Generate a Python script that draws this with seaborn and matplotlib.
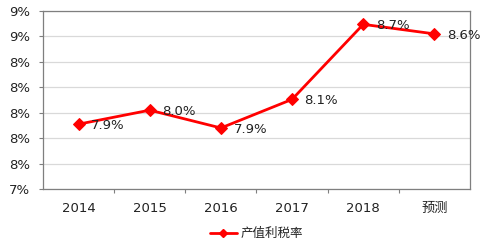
import matplotlib
matplotlib.use("Agg")
import matplotlib.pyplot as plt
import seaborn as sns
import pandas as pd
import numpy as np

categories = ["2014", "2015", "2016", "2017", "2018", "预测"]
values = [7.91, 8.02, 7.88, 8.105, 8.695, 8.62]
series_name = "产值利税率"
y_ticks = [7.4, 7.6, 7.8, 8.0, 8.2, 8.4, 8.6, 8.8]

sns.set_theme(style="white")
plt.rcParams['font.family'] = ['DejaVu Sans', 'Noto Sans CJK SC']

df = pd.DataFrame({"year": categories, "value": values, "series": series_name})

fig = plt.figure(figsize=(4.84, 2.45), dpi=100)
ax = fig.add_axes([43/484, 1-189/245, (470-43)/484, (189-11)/245])

sns.lineplot(data=df, x="year", y="value", hue="series", palette=["#FF0000"],
             marker="D", markersize=6.5, markeredgecolor="#FF0000",
             linewidth=2.0, ax=ax, sort=False, legend=False)

ax.set_xlim(-0.5, len(categories) - 0.5)
ax.set_ylim(y_ticks[0], y_ticks[-1])
ax.set_yticks(y_ticks)
ax.set_yticklabels([f"{t:.0f}%" for t in y_ticks], fontsize=9.5, color="#222222")
ax.set_xticks(range(len(categories)))
ax.set_xticklabels(categories, fontsize=9.5, color="#222222",
                   family=['DejaVu Sans', 'Noto Sans CJK SC'])
ax.set_xticks(np.arange(0.5, len(categories) - 0.5, 1.0), minor=True)
ax.tick_params(axis="x", which="major", length=0, pad=9)
ax.tick_params(axis="x", which="minor", length=3, width=0.8, color="#7f7f7f", direction="out", bottom=True)
ax.tick_params(axis="y", length=3, width=0.8, color="#7f7f7f", direction="out", left=True, pad=6)
ax.set_xlabel("")
ax.set_ylabel("")

ax.grid(axis="y", color="#d9d9d9", linewidth=0.9)
ax.grid(axis="x", visible=False)
for s in ax.spines.values():
    s.set_visible(True)
    s.set_color("#7f7f7f")
    s.set_linewidth(0.9)

for i, v in enumerate(values):
    ax.annotate(f"{v:.1f}%", (i, v), xytext=(9, -1), textcoords="offset points",
                ha="left", va="center", fontsize=9.5, color="#222222")

handle = plt.Line2D([], [], color="#FF0000", linewidth=2.0, marker="D", markersize=4)
leg = ax.legend([handle], [series_name], loc="center", bbox_to_anchor=(0.5, -0.25),
                frameon=False, prop={'family': ['Noto Sans CJK SC'], 'size': 9},
                handlelength=2.2, handletextpad=0.3, borderpad=0)

fig.savefig("out.png", dpi=100)
